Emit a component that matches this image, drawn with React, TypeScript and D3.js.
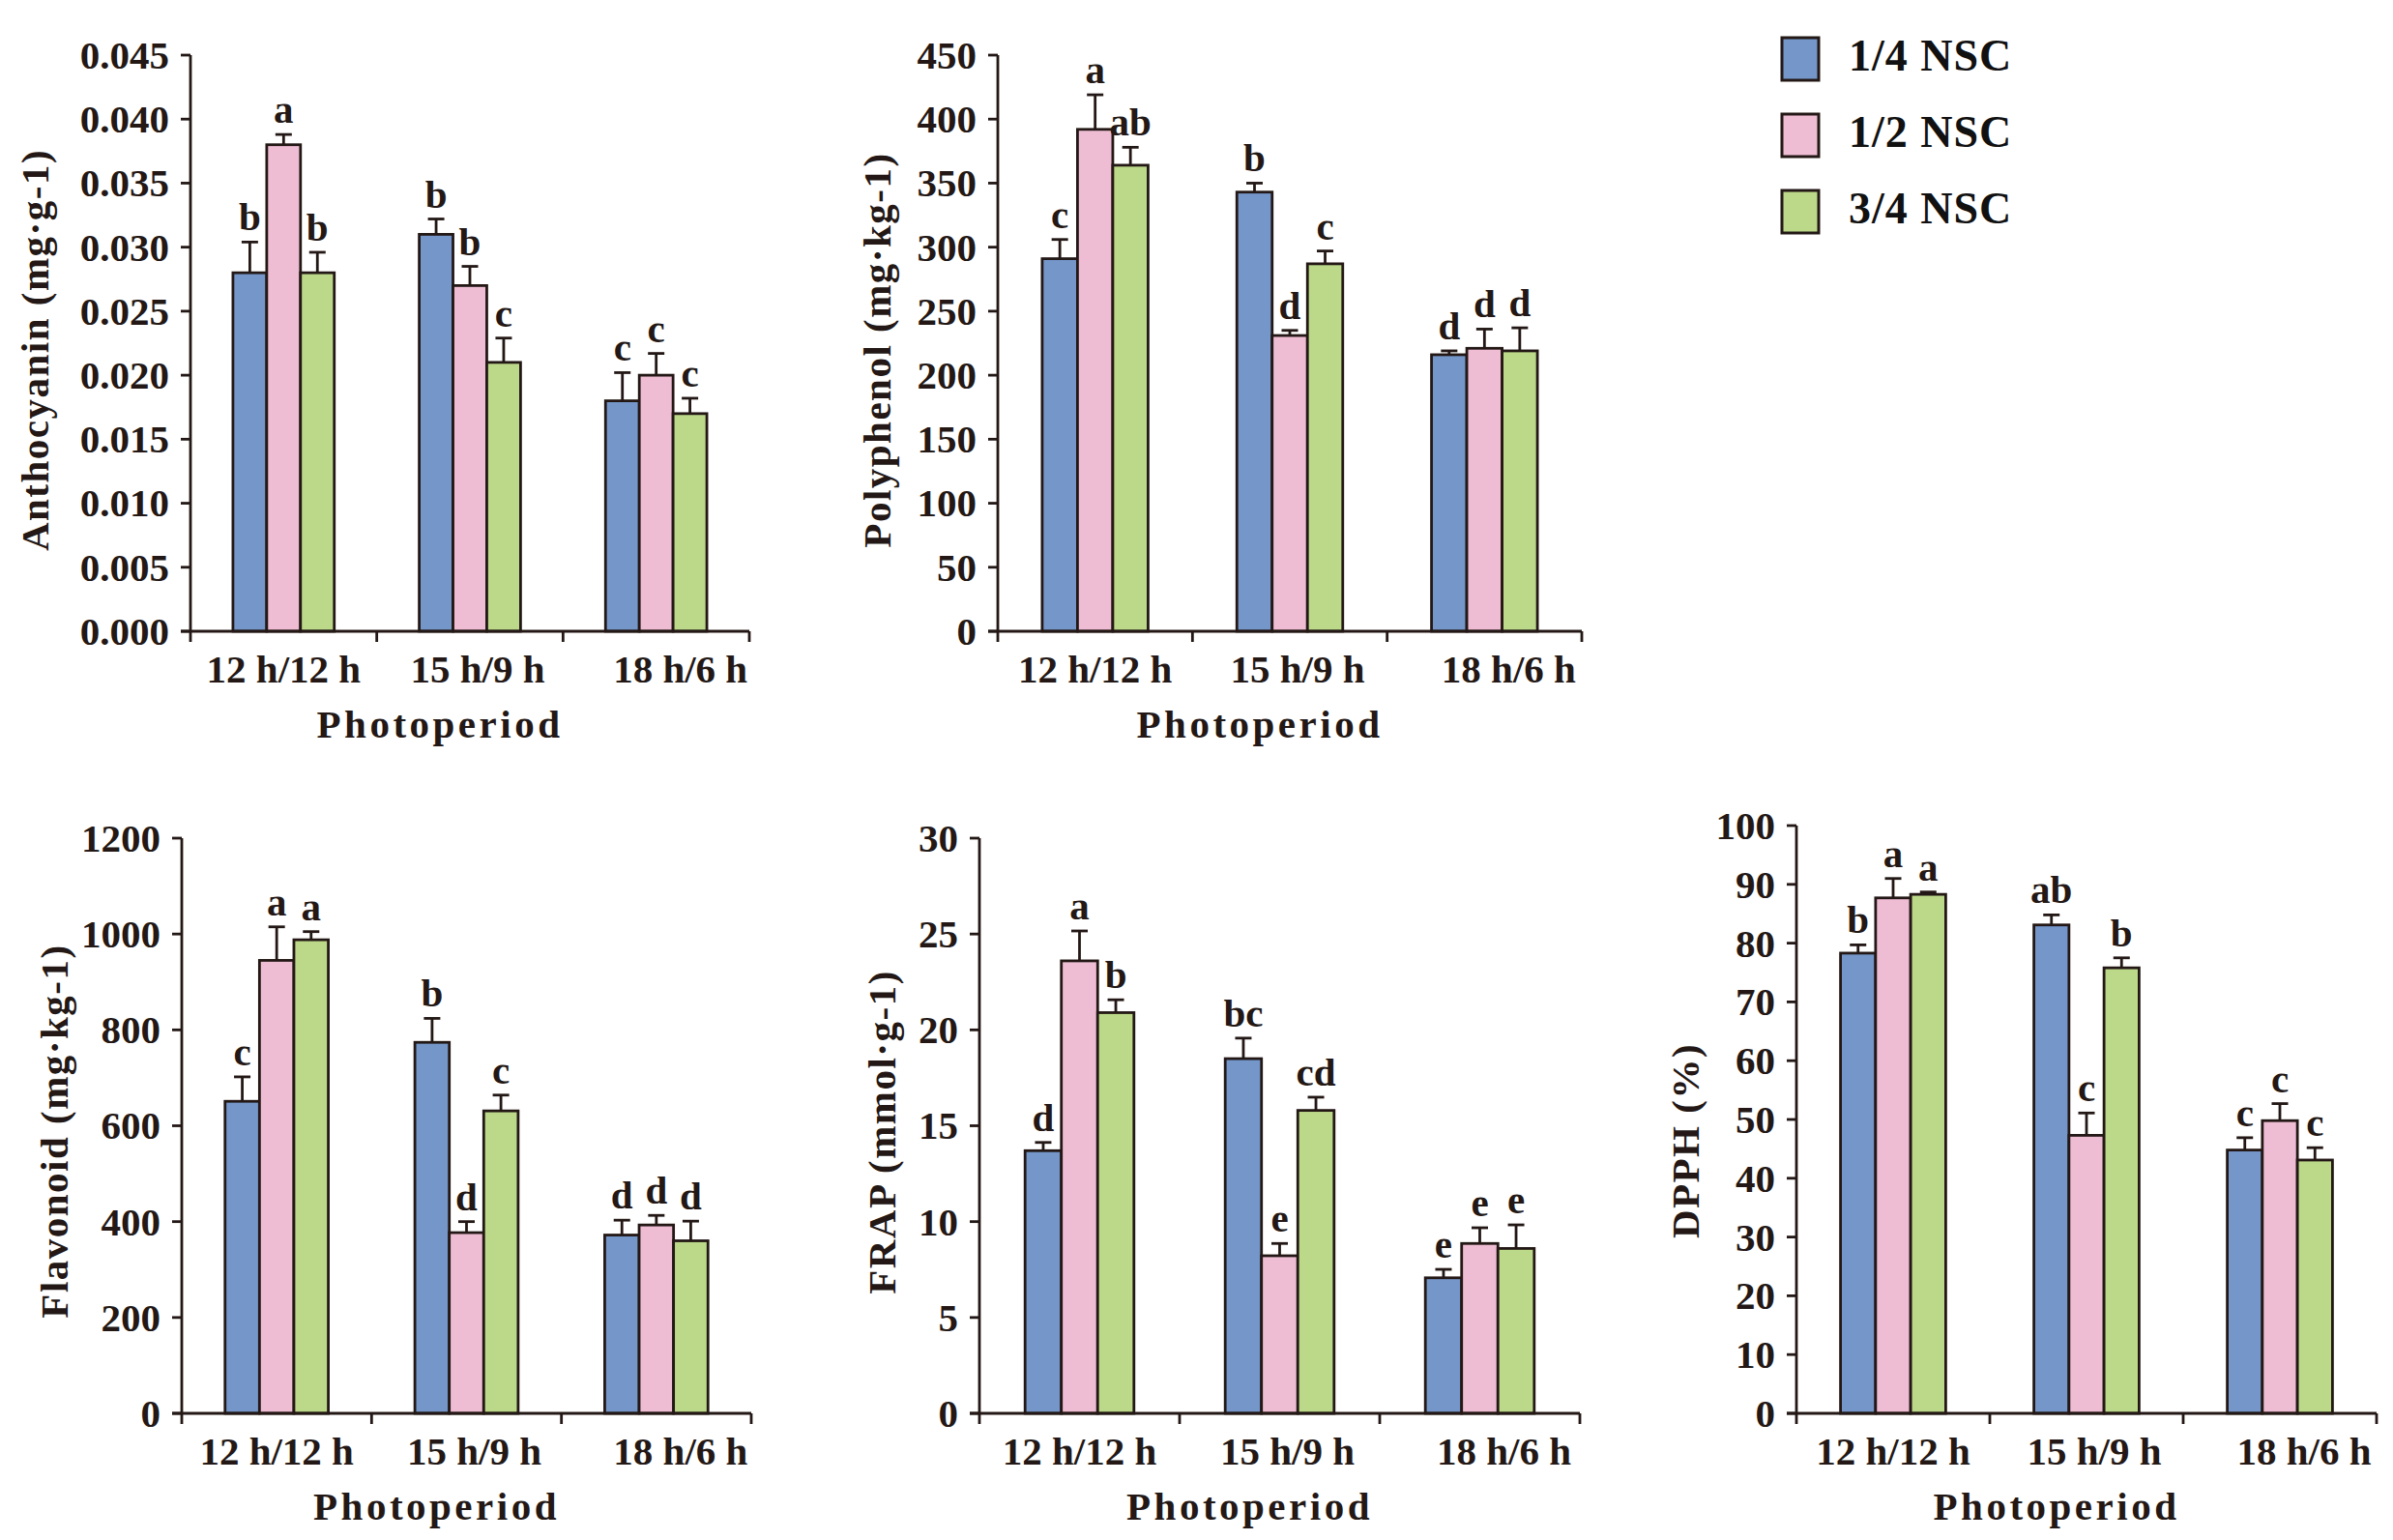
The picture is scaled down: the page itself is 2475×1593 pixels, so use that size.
import React from "react";
import * as d3 from "d3";

// ---------- data ----------
const photoperiods = ["12 h/12 h", "15 h/9 h", "18 h/6 h"];
const seriesNames = ["1/4 NSC", "1/2 NSC", "3/4 NSC"];
const seriesColors = ["#7496c9", "#eebdd4", "#bcd98a"];

// Anthocyanin (mg·g-1)
const anthoMean = [
  [0.028, 0.031, 0.018],
  [0.038, 0.027, 0.020],
  [0.028, 0.021, 0.017],
];
const anthoErr = [
  [0.0024, 0.0012, 0.0022],
  [0.0008, 0.0015, 0.0017],
  [0.0016, 0.0019, 0.0012],
];
const anthoLetters = [
  ["b", "b", "c"],
  ["a", "b", "c"],
  ["b", "c", "c"],
];

// Polyphenol (mg·kg-1)
const polyMean = [
  [291, 343, 216],
  [392, 231, 221],
  [364, 287, 219],
];
const polyErr = [
  [15, 7, 3],
  [27, 4, 15],
  [14, 10, 18],
];
const polyLetters = [
  ["c", "b", "d"],
  ["a", "d", "d"],
  ["ab", "c", "d"],
];

// Flavonoid (mg·kg-1)
const flavMean = [
  [651, 774, 372],
  [945, 377, 393],
  [988, 631, 360],
];
const flavErr = [
  [51, 50, 31],
  [70, 23, 20],
  [17, 33, 41],
];
const flavLetters = [
  ["c", "b", "d"],
  ["a", "d", "d"],
  ["a", "c", "d"],
];

// FRAP (mmol·g-1)
const frapMean = [
  [13.7, 18.5, 7.07],
  [23.6, 8.22, 8.86],
  [20.9, 15.8, 8.6],
];
const frapErr = [
  [0.43, 1.07, 0.44],
  [1.56, 0.64, 0.82],
  [0.67, 0.69, 1.23],
];
const frapLetters = [
  ["d", "bc", "e"],
  ["a", "e", "e"],
  ["b", "cd", "e"],
];

// DPPH (%)
const dpphMean = [
  [78.3, 83.1, 44.8],
  [87.7, 47.3, 49.8],
  [88.3, 75.8, 43.1],
];
const dpphErr = [
  [1.4, 1.7, 2.1],
  [3.3, 3.8, 2.9],
  [0.4, 1.7, 2.1],
];
const dpphLetters = [
  ["b", "ab", "c"],
  ["a", "c", "c"],
  ["a", "b", "c"],
];

// ---------- style / layout ----------
const INK = "#231815";
const FONT = "'Liberation Serif', 'Times New Roman', serif";
const FS = 41;

const panels = [
  { title: "Anthocyanin (mg·g-1)", mean: anthoMean, err: anthoErr, letters: anthoLetters, max: 0.045, step: 0.005, fmt: ".3f",
    x0: 197, x1: 775, yTop: 57, yZero: 653, titleX: 50, titleY: 362 },
  { title: "Polyphenol (mg·kg-1)", mean: polyMean, err: polyErr, letters: polyLetters, max: 450, step: 50, fmt: "d",
    x0: 1032, x1: 1636, yTop: 57, yZero: 653, titleX: 921, titleY: 362 },
  { title: "Flavonoid (mg·kg-1)", mean: flavMean, err: flavErr, letters: flavLetters, max: 1200, step: 200, fmt: "d",
    x0: 188, x1: 777, yTop: 867, yZero: 1462, titleX: 70, titleY: 1170 },
  { title: "FRAP (mmol·g-1)", mean: frapMean, err: frapErr, letters: frapLetters, max: 30, step: 5, fmt: "d",
    x0: 1013, x1: 1634, yTop: 867, yZero: 1462, titleX: 926, titleY: 1171 },
  { title: "DPPH (%)", mean: dpphMean, err: dpphErr, letters: dpphLetters, max: 100, step: 10, fmt: "d",
    x0: 1858, x1: 2458, yTop: 854, yZero: 1462, titleX: 1757, titleY: 1180 },
];

const labelShift = [0, 8, 25];

function Panel({ p }: { p: any }) {
  const x = d3.scaleBand<string>().domain(photoperiods).range([p.x0, p.x1]).padding(0);
  const bw = x.bandwidth();
  const xs = d3.scaleBand<string>().domain(seriesNames).range([bw * 0.228, bw * 0.772]).padding(0);
  const y = d3.scaleLinear().domain([0, p.max]).range([p.yZero, p.yTop]);
  const ticks = d3.range(0, p.max + p.step / 2, p.step);
  const fmt = d3.format(p.fmt);
  const tickLen = 10;
  const bounds = [...photoperiods.map((c) => x(c) as number), p.x1];
  const capW = 17;

  return (
    <g>
      {/* bars */}
      {seriesNames.map((s, si) =>
        photoperiods.map((c, gi) => {
          const bx = (x(c) as number) + (xs(s) as number);
          const v = p.mean[si][gi];
          const top = y(v);
          const eTop = y(v + p.err[si][gi]);
          const cx = bx + xs.bandwidth() / 2;
          return (
            <g key={s + c}>
              <line x1={cx} x2={cx} y1={top} y2={eTop} stroke={INK} strokeWidth={2.8} />
              <line x1={cx - capW / 2} x2={cx + capW / 2} y1={eTop} y2={eTop} stroke={INK} strokeWidth={2.8} />
              <rect x={bx} y={top} width={xs.bandwidth()} height={p.yZero - top} fill={seriesColors[si]} stroke={INK} strokeWidth={2.8} />
              <text x={cx} y={eTop - 12} textAnchor="middle" fontFamily={FONT} fontWeight="bold" fontSize={FS} fill={INK}>
                {p.letters[si][gi]}
              </text>
            </g>
          );
        })
      )}
      {/* y axis */}
      <line x1={p.x0} x2={p.x0} y1={p.yTop} y2={p.yZero + 11} stroke={INK} strokeWidth={2.8} />
      {ticks.map((t: number) => (
        <g key={t}>
          <line x1={p.x0 - tickLen} x2={p.x0} y1={y(t)} y2={y(t)} stroke={INK} strokeWidth={2.8} />
          <text x={p.x0 - 22} y={y(t)} dy="0.34em" textAnchor="end" fontFamily={FONT} fontWeight="bold" fontSize={FS} fill={INK}>
            {fmt(t)}
          </text>
        </g>
      ))}
      {/* x axis */}
      <line x1={p.x0 - tickLen} x2={p.x1} y1={p.yZero} y2={p.yZero} stroke={INK} strokeWidth={3} />
      {bounds.slice(1).map((bx: number, i: number) => (
        <line key={i} x1={bx} x2={bx} y1={p.yZero} y2={p.yZero + 11} stroke={INK} strokeWidth={2.8} />
      ))}
      {photoperiods.map((c, i) => (
        <text key={c} x={(x(c) as number) + bw / 2 + labelShift[i]} y={p.yZero + 53} textAnchor="middle" fontFamily={FONT} fontWeight="bold" fontSize={FS} fill={INK}>
          {c}
        </text>
      ))}
      <text x={(p.x0 + p.x1) / 2 - 31} y={p.yZero + 110} textAnchor="middle" fontFamily={FONT} fontWeight="bold" fontSize={FS} letterSpacing={3.5} fill={INK}>
        Photoperiod
      </text>
      <text transform={`translate(${p.titleX},${p.titleY}) rotate(-90)`} textAnchor="middle" fontFamily={FONT} fontWeight="bold" fontSize={FS} letterSpacing={1.5} fill={INK}>
        {p.title}
      </text>
    </g>
  );
}

export default function App() {
  const legendY = d3.scaleBand<string>().domain(seriesNames).range([39, 39 + 79 * 3]).padding(0);
  return (
    <svg width={2475} height={1593} style={{ position: "absolute", left: 0, top: 0, background: "#fff" }}>
      <rect width={2475} height={1593} fill="#fff" />
      {panels.map((p, i) => (
        <Panel key={i} p={p} />
      ))}
      {seriesNames.map((s, i) => (
        <g key={s}>
          <rect x={1843} y={legendY(s) as number} width={38} height={44} fill={seriesColors[i]} stroke={INK} strokeWidth={3} />
          <text x={1912} y={(legendY(s) as number) + 34} fontFamily={FONT} fontWeight="bold" fontSize={46} letterSpacing={1} fill="#111">
            {s}
          </text>
        </g>
      ))}
    </svg>
  );
}
